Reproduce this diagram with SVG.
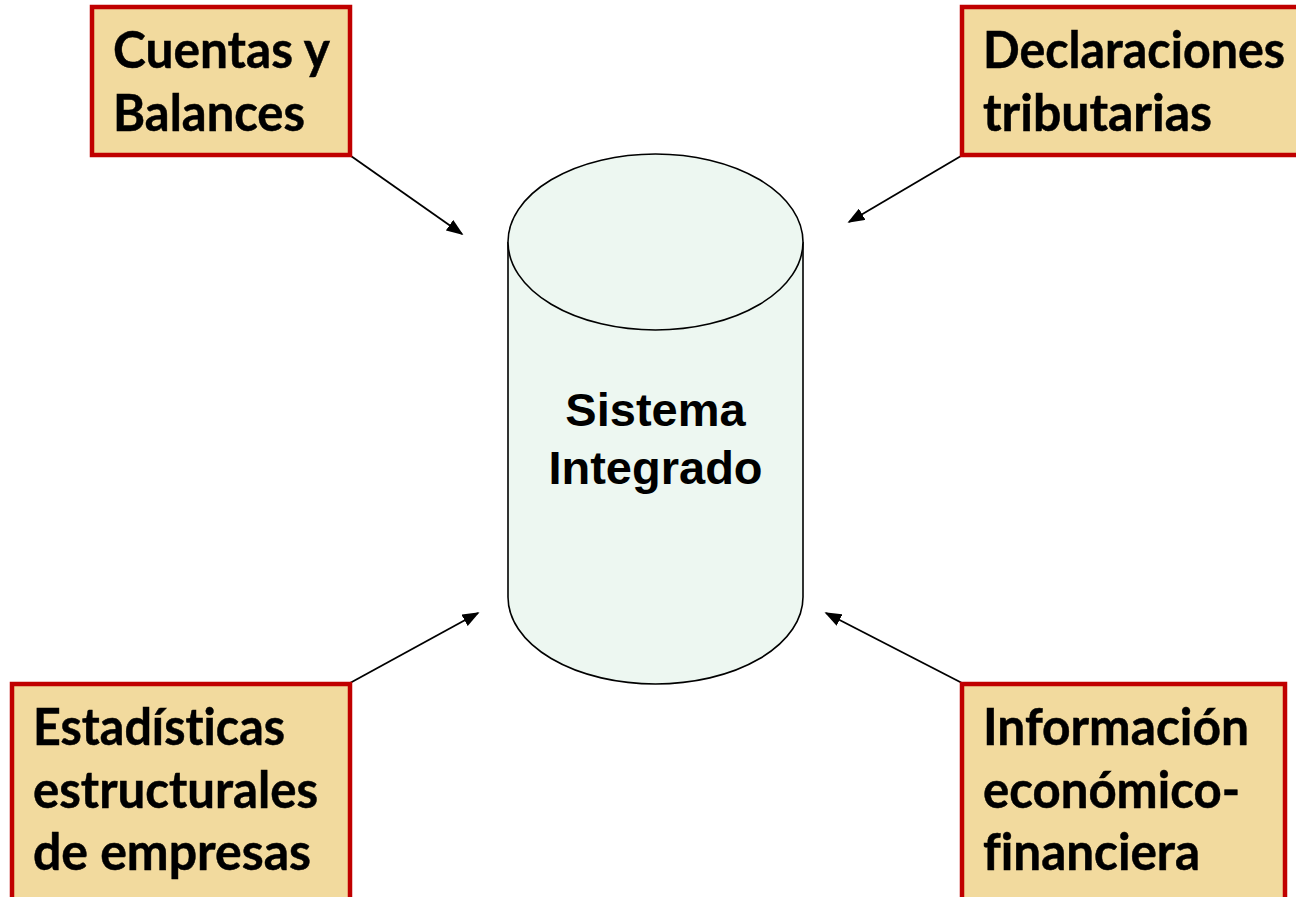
<svg xmlns="http://www.w3.org/2000/svg" width="1296" height="897" viewBox="0 0 1296 897">
<defs>
<style>
.box{fill:#F2DA9E;stroke:#C00000;stroke-width:4.5}
.bt{font-family:Lato,"Liberation Sans",sans-serif;font-weight:bold;font-size:51px;fill:#000;stroke:#000;stroke-width:0.5;font-variant-ligatures:none;font-feature-settings:"liga" 0,"dlig" 0}
.ct{font-family:"Liberation Sans",Arial,sans-serif;font-weight:bold;font-size:47px;fill:#000;text-anchor:middle}
.cyl{fill:#EDF7F1;stroke:#000;stroke-width:1.6}
.conn{stroke:#000;stroke-width:1.8;fill:none;marker-end:url(#ah)}
</style>
<marker id="ah" viewBox="0 0 10 10" refX="9" refY="5" markerWidth="17" markerHeight="13" markerUnits="userSpaceOnUse" orient="auto" preserveAspectRatio="none">
<path d="M0,0 L10,5 L0,10 z" fill="#000"/>
</marker>
</defs>
<rect width="1296" height="897" fill="#fff"/>
<g id="connectors">
<line class="conn" x1="351" y1="156" x2="462" y2="234"/>
<line class="conn" x1="961" y1="156" x2="849" y2="222"/>
<line class="conn" x1="350" y1="683" x2="478" y2="613"/>
<line class="conn" x1="962" y1="683" x2="826" y2="613"/>
</g>
<g id="sistema">
<path class="cyl" d="M508,242 L508,597 A147.5,87 0 0 0 803,597 L803,242"/>
<ellipse class="cyl" cx="655.5" cy="242" rx="147.5" ry="88"/>
<text class="ct" x="655.5" y="426">Sistema</text>
<text class="ct" x="655.5" y="484">Integrado</text>
</g>
<g id="cuentas">
<rect class="box" x="92" y="7" width="258" height="148"/>
<text class="bt" x="113" y="68" textLength="217" lengthAdjust="spacingAndGlyphs">Cuentas y</text>
<text class="bt" x="113" y="131" textLength="192" lengthAdjust="spacingAndGlyphs">Balances</text>
</g>
<g id="declaraciones">
<rect class="box" x="962" y="7" width="340" height="148"/>
<text class="bt" x="983" y="68" textLength="302" lengthAdjust="spacingAndGlyphs">Declaraciones</text>
<text class="bt" x="983" y="131" textLength="229" lengthAdjust="spacingAndGlyphs">tributarias</text>
</g>
<g id="estadisticas">
<rect class="box" x="12" y="684" width="338" height="220"/>
<text class="bt" x="33" y="745" textLength="252" lengthAdjust="spacingAndGlyphs">Estadísticas</text>
<text class="bt" x="33" y="808" textLength="285" lengthAdjust="spacingAndGlyphs">estructurales</text>
<text class="bt" x="33" y="870" textLength="278" lengthAdjust="spacingAndGlyphs">de empresas</text>
</g>
<g id="informacion">
<rect class="box" x="962" y="684" width="323" height="220"/>
<text class="bt" x="983" y="745" textLength="266" lengthAdjust="spacingAndGlyphs">Información</text>
<text class="bt" x="983" y="808" textLength="257" lengthAdjust="spacingAndGlyphs">económico-</text>
<text class="bt" x="983" y="870" textLength="217" lengthAdjust="spacingAndGlyphs">financiera</text>
</g>
</svg>
